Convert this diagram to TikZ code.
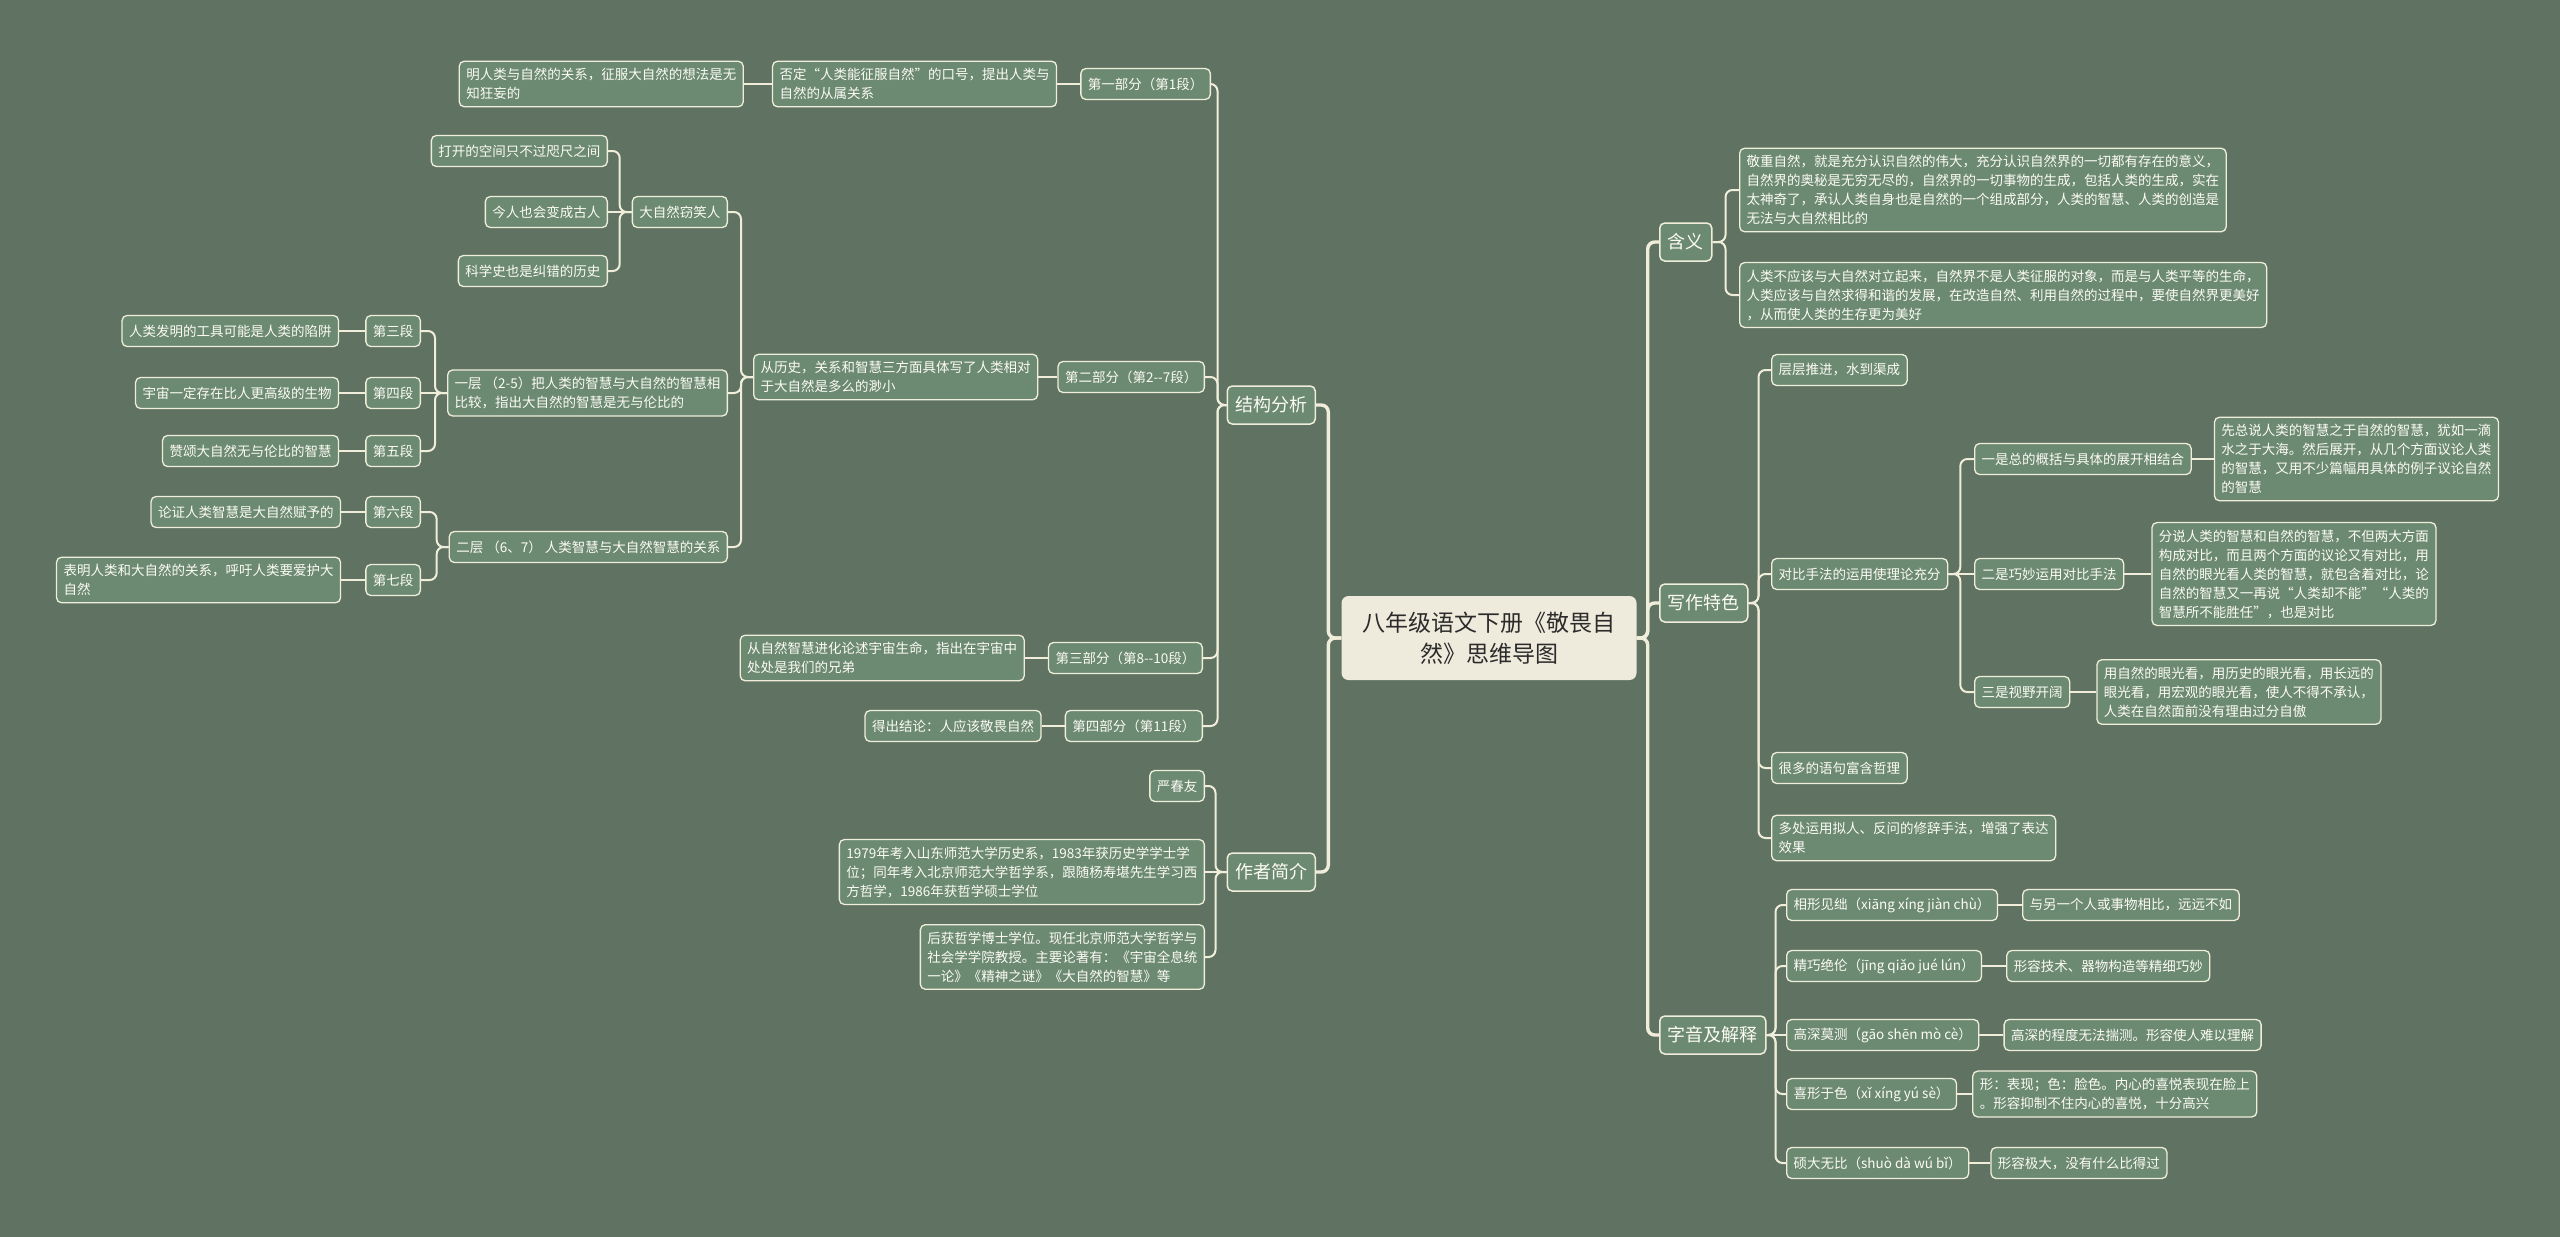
\documentclass[tikz,border=0pt]{standalone}
\usepackage{fontspec}
\setmainfont{Noto Sans CJK SC}
\usepackage{tikz}
\usetikzlibrary{positioning}
\definecolor{bg}{HTML}{607362}
\definecolor{boxfill}{HTML}{6C8A72}
\definecolor{wire}{HTML}{F0EEDA}
\definecolor{ink}{HTML}{FCFBF4}
\definecolor{rootfill}{HTML}{EFEBDC}
\definecolor{rootink}{HTML}{2B2B2B}

\begin{document}
\begin{tikzpicture}[x=1pt,y=-1pt,
  box/.style={draw=wire, line width=1.3pt, fill=boxfill, rounded corners=5pt, text=ink,
    font=\fontsize{13.5}{19}\selectfont, inner xsep=7pt, inner ysep=7pt, minimum height=31pt, align=left},
  topic/.style={box, line width=1.5pt, font=\fontsize{18}{22}\selectfont, inner xsep=8pt, minimum height=38pt},
  root/.style={fill=rootfill, text=rootink, rounded corners=7pt, font=\fontsize{23}{31}\selectfont,
    align=center, minimum width=295pt, minimum height=84pt},
  link/.style={draw=wire, line width=2pt, rounded corners=7pt},
  trunk/.style={link, line width=3.4pt}]
  \useasboundingbox (0,0) rectangle (2560,1237);
  \fill[bg] (0,0) rectangle (2560,1237);

  \node[root] (root) at (1489,638) {八年级语文下册《敬畏自\\然》思维导图};
  \node[topic, anchor=east] (jg) at (1316,405) {结构分析};
  \node[topic, anchor=east] (zz) at (1316,872) {作者简介};
  \node[topic, anchor=west] (hy) at (1659,242) {含义};
  \node[topic, anchor=west] (xz) at (1659,603) {写作特色};
  \node[topic, anchor=west] (zy) at (1659,1035) {字音及解释};

  \node[box, anchor=east] (p1) at (1211,84) {第一部分（第1段）};
  \node[box, left=23pt of p1] (p1a) {否定“人类能征服自然”的口号，提出人类与\\自然的从属关系};
  \node[box, left=28pt of p1a] (p1b) {明人类与自然的关系，征服大自然的想法是无\\知狂妄的};
  \node[box, anchor=east] (p2) at (1205,377) {第二部分（第2-{}-7段）};
  \node[box, anchor=west] (p2a) at (753,377) {从历史，关系和智慧三方面具体写了人类相对\\于大自然是多么的渺小};
  \node[box, anchor=east] (dz) at (728,212) {大自然窃笑人};
  \node[box, anchor=east] (c1) at (728,393) {一层 （2-5）把人类的智慧与大自然的智慧相\\比较，指出大自然的智慧是无与伦比的};
  \node[box, anchor=east] (c2) at (728,547) {二层 （6、7） 人类智慧与大自然智慧的关系};
  \node[box, anchor=east] (dz1) at (608,151) {打开的空间只不过咫尺之间};
  \node[box, anchor=east] (dz2) at (608,212) {今人也会变成古人};
  \node[box, anchor=east] (dz3) at (608,271) {科学史也是纠错的历史};
  \node[box, anchor=east] (d3) at (421,331) {第三段};
  \node[box, anchor=east] (d4) at (421,393) {第四段};
  \node[box, anchor=east] (d5) at (421,451) {第五段};
  \node[box, left=26pt of d3] (d3a) {人类发明的工具可能是人类的陷阱};
  \node[box, left=26pt of d4] (d4a) {宇宙一定存在比人更高级的生物};
  \node[box, left=26pt of d5] (d5a) {赞颂大自然无与伦比的智慧};
  \node[box, anchor=east] (d6) at (421,512) {第六段};
  \node[box, anchor=east] (d7) at (421,580) {第七段};
  \node[box, left=24pt of d6] (d6a) {论证人类智慧是大自然赋予的};
  \node[box, left=24pt of d7] (d7a) {表明人类和大自然的关系，呼吁人类要爱护大\\自然};
  \node[box, anchor=east] (p3) at (1203,658) {第三部分（第8-{}-10段）};
  \node[box, left=23pt of p3] (p3a) {从自然智慧进化论述宇宙生命，指出在宇宙中\\处处是我们的兄弟};
  \node[box, anchor=east] (p4) at (1203,726) {第四部分（第11段）};
  \node[box, left=23pt of p4] (p4a) {得出结论：人应该敬畏自然};

  \node[box, anchor=east] (a1) at (1205,786) {严春友};
  \node[box, anchor=east] (a2) at (1205,872) {1979年考入山东师范大学历史系，1983年获历史学学士学\\位；同年考入北京师范大学哲学系，跟随杨寿堪先生学习西\\方哲学，1986年获哲学硕士学位};
  \node[box, anchor=east] (a3) at (1205,957) {后获哲学博士学位。现任北京师范大学哲学与\\社会学学院教授。主要论著有：《宇宙全息统\\一论》《精神之谜》《大自然的智慧》等};

  \node[box, anchor=west] (h1) at (1739,190) {敬重自然，就是充分认识自然的伟大，充分认识自然界的一切都有存在的意义，\\自然界的奥秘是无穷无尽的，自然界的一切事物的生成，包括人类的生成，实在\\太神奇了，承认人类自身也是自然的一个组成部分，人类的智慧、人类的创造是\\无法与大自然相比的};
  \node[box, anchor=west] (h2) at (1739,295) {人类不应该与大自然对立起来，自然界不是人类征服的对象，而是与人类平等的生命，\\人类应该与自然求得和谐的发展，在改造自然、利用自然的过程中，要使自然界更美好\\，从而使人类的生存更为美好};

  \node[box, anchor=west] (x1) at (1771,370) {层层推进，水到渠成};
  \node[box, anchor=west] (x2) at (1771,574) {对比手法的运用使理论充分};
  \node[box, anchor=west] (x3) at (1771,768) {很多的语句富含哲理};
  \node[box, anchor=west] (x4) at (1771,838) {多处运用拟人、反问的修辞手法，增强了表达\\效果};
  \node[box, anchor=west] (y1) at (1974,459) {一是总的概括与具体的展开相结合};
  \node[box, right=22pt of y1] (y1a) {先总说人类的智慧之于自然的智慧，犹如一滴\\水之于大海。然后展开，从几个方面议论人类\\的智慧，又用不少篇幅用具体的例子议论自然\\的智慧};
  \node[box, anchor=west] (y2) at (1974,574) {二是巧妙运用对比手法};
  \node[box, right=27pt of y2] (y2a) {分说人类的智慧和自然的智慧，不但两大方面\\构成对比，而且两个方面的议论又有对比，用\\自然的眼光看人类的智慧，就包含着对比，论\\自然的智慧又一再说“人类却不能”“人类的\\智慧所不能胜任”，也是对比};
  \node[box, anchor=west] (y3) at (1974,692) {三是视野开阔};
  \node[box, right=26pt of y3] (y3a) {用自然的眼光看，用历史的眼光看，用长远的\\眼光看，用宏观的眼光看，使人不得不承认，\\人类在自然面前没有理由过分自傲};

  \node[box, anchor=west] (w1) at (1786,905) {相形见绌（xiāng xíng jiàn chù）};
  \node[box, right=24pt of w1] (w1a) {与另一个人或事物相比，远远不如};
  \node[box, anchor=west] (w2) at (1786,966) {精巧绝伦（jīng qiǎo jué lún）};
  \node[box, right=24pt of w2] (w2a) {形容技术、器物构造等精细巧妙};
  \node[box, anchor=west] (w3) at (1786,1035) {高深莫测（gāo shēn mò cè）};
  \node[box, right=24pt of w3] (w3a) {高深的程度无法揣测。形容使人难以理解};
  \node[box, anchor=west] (w4) at (1786,1094) {喜形于色（xǐ xíng yú sè）};
  \node[box, right=15pt of w4] (w4a) {形：表现；色：脸色。内心的喜悦表现在脸上\\。形容抑制不住内心的喜悦，十分高兴};
  \node[box, anchor=west] (w5) at (1786,1163) {硕大无比（shuò dà wú bǐ）};
  \node[box, right=21pt of w5] (w5a) {形容极大，没有什么比得过};

  \foreach \n in {jg,zz}
    \draw[trunk] (root.west) -- ++(-13,0) |- (\n.east);
  \foreach \n in {hy,xz,zy}
    \draw[trunk] (root.east) -- ++(11,0) |- (\n.west);

  \foreach \n in {p1,p2,p3,p4}
    \draw[link] (jg.west) -- ++(-9,0) |- (\n.east);
  \draw[link] (p1.west) -- (p1a.east);
  \draw[link] (p1a.west) -- (p1b.east);
  \draw[link] (p2.west) -- (p2a.east);
  \draw[link] (p3.west) -- (p3a.east);
  \draw[link] (p4.west) -- (p4a.east);
  \foreach \n in {dz,c1,c2}
    \draw[link] (p2a.west) -- ++(-12,0) |- (\n.east);
  \foreach \n in {dz1,dz3}
    \draw[link] (dz.west) -- ++(-12,0) |- (\n.east);
  \draw[link] (dz.west) -- (dz2.east);
  \foreach \n in {d3,d5}
    \draw[link] (c1.west) -- ++(-12,0) |- (\n.east);
  \draw[link] (c1.west) -- (d4.east);
  \foreach \n in {d6,d7}
    \draw[link] (c2.west) -- ++(-12,0) |- (\n.east);
  \foreach \n in {3,4,5,6,7}
    \draw[link] (d\n.west) -- (d\n a.east);

  \foreach \n in {a1,a3}
    \draw[link] (zz.west) -- ++(-11,0) |- (\n.east);
  \draw[link] (zz.west) -- (a2.east);

  \foreach \n in {h1,h2}
    \draw[link] (hy.east) -- ++(13,0) |- (\n.west);
  \foreach \n in {x1,x2,x3,x4}
    \draw[link] (xz.east) -- ++(10,0) |- (\n.west);
  \foreach \n in {y1,y3}
    \draw[link] (x2.east) -- ++(12,0) |- (\n.west);
  \draw[link] (x2.east) -- (y2.west);
  \foreach \n in {1,2,3}
    \draw[link] (y\n.east) -- (y\n a.west);
  \foreach \n in {w1,w2,w4,w5}
    \draw[link] (zy.east) -- ++(9,0) |- (\n.west);
  \draw[link] (zy.east) -- (w3.west);
  \foreach \n in {1,2,3,4,5}
    \draw[link] (w\n.east) -- (w\n a.west);
\end{tikzpicture}
\end{document}
